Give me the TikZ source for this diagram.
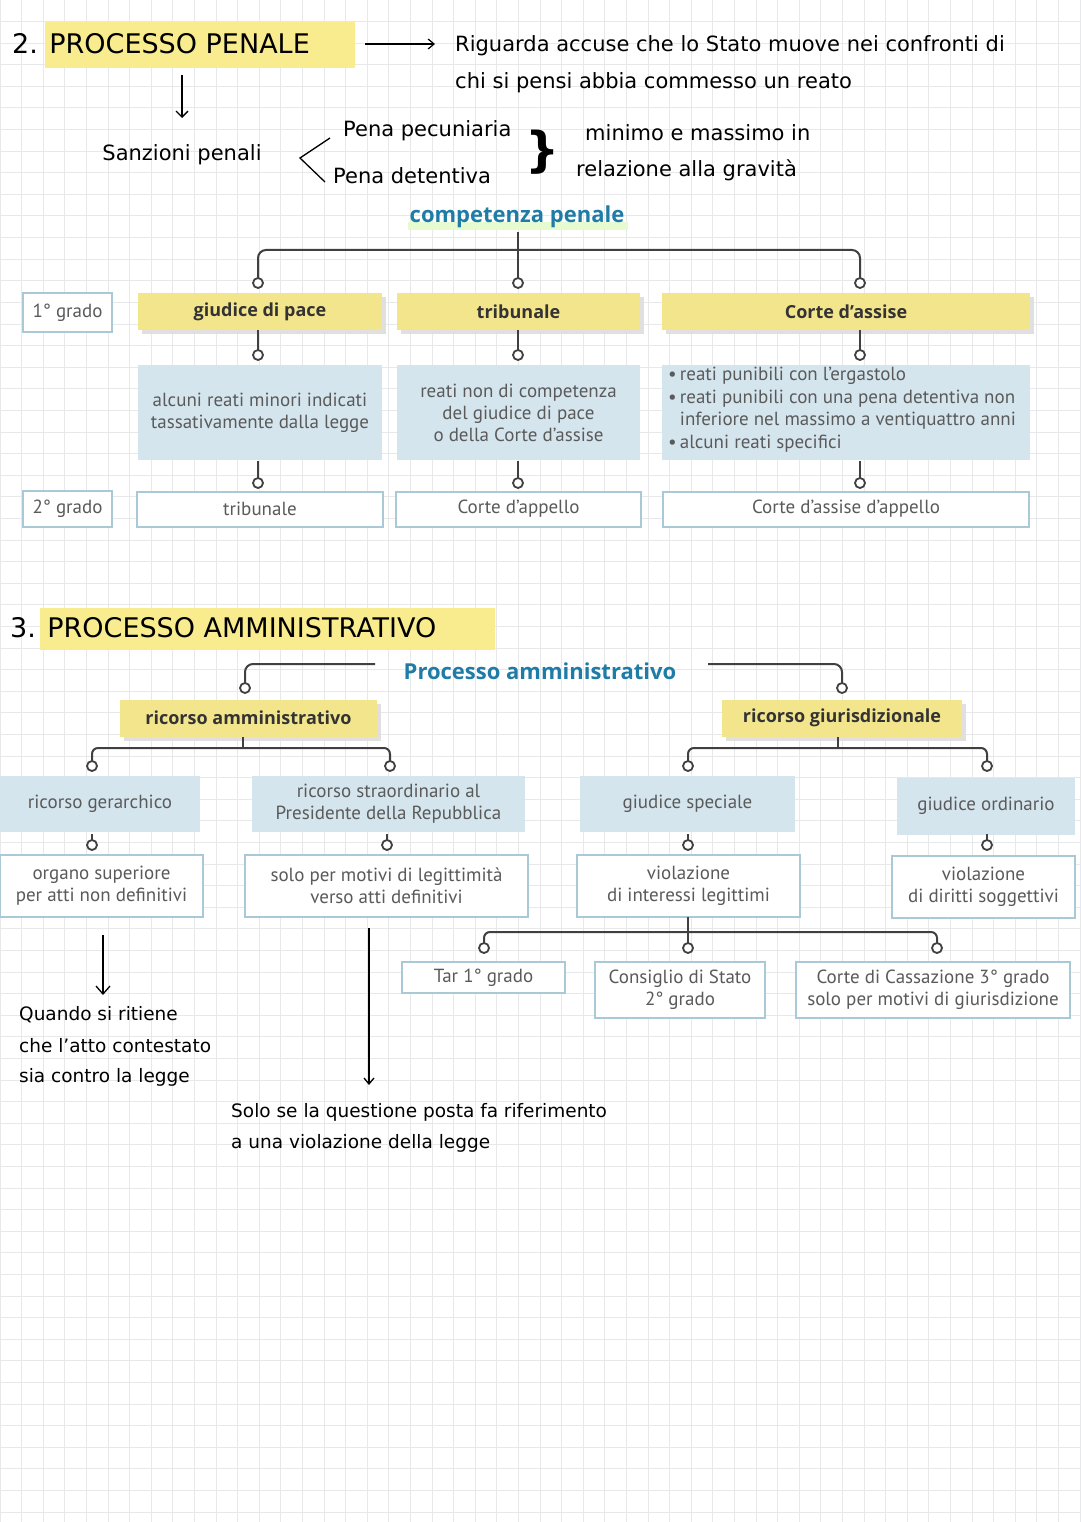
\documentclass[tikz,border=0pt]{standalone}
\usepackage{fontspec}
\usetikzlibrary{arrows.meta}
\setmainfont{DejaVu Sans}
\newfontfamily\boxf{PT Sans}
\newfontfamily\headf{Open Sans}
\definecolor{hl}{HTML}{F8EC8E}
\definecolor{hdr}{HTML}{F3E58C}
\definecolor{bfill}{HTML}{D5E5EE}
\definecolor{bord}{HTML}{A9C9D6}
\definecolor{ttl}{HTML}{1F7CA6}
\definecolor{gtxt}{HTML}{5A5A5A}
\definecolor{grid}{HTML}{E6E8EA}
\begin{document}
\begin{tikzpicture}[x=1pt,y=-1pt,
  hand/.style={font=\fontsize{21}{24}\selectfont,text=black,inner sep=0pt},
  hdr/.style={fill=hdr,draw=none,font=\headf\bfseries\fontsize{18}{22}\selectfont,text=black!80,minimum height=37pt,inner sep=0pt},
  bbox/.style={fill=bfill,draw=none,font=\boxf\fontsize{19}{22}\selectfont,text=gtxt,align=center,inner sep=0pt},
  wbox/.style={fill=white,draw=bord,line width=2pt,font=\boxf\fontsize{19}{22}\selectfont,text=gtxt,align=center,inner sep=0pt},
  ln/.style={draw=black!75,line width=2pt},
  dot/.style={circle,draw=black!75,line width=1.8pt,fill=white,minimum size=10pt,inner sep=0pt},
  ttl/.style={font=\headf\bfseries\fontsize{22}{26}\selectfont,text=ttl},
  harrow/.style={draw=black,line width=1.3pt,-{Straight Barb[length=8pt,width=14pt]}}
]
\useasboundingbox (0,0) rectangle (1080,1522);
\fill[white] (0,0) rectangle (1080,1522);
\foreach \i in {0,...,50} {\draw[grid,line width=1pt] (\i*21.6,0) -- (\i*21.6,1522);}
\foreach \j in {0,...,71} {\draw[grid,line width=1pt] (0,\j*21.6) -- (1080,\j*21.6);}

% ---------- Section 2 ----------
\fill[hl] (45,22) rectangle (355,68);
\node[hand,anchor=west,font=\fontsize{27}{30}\selectfont] (t2) at (12,44) {2. PROCESSO PENALE};
\coordinate (a1) at (365,44); \coordinate (a2) at (435,44);
\draw[harrow,line width=1.2pt,-{Straight Barb[length=6pt,width=10pt]}] (a1) -- (a2);
\node[hand,anchor=west] (r1) at (455,46) {Riguarda accuse che lo Stato muove nei confronti di};
\node[hand,anchor=west] (r2) at (455,83) {chi si pensi abbia commesso un reato};
\coordinate (d1) at (182,75); \coordinate (d2) at (182,118);
\draw[harrow,-{Straight Barb[length=6pt,width=12pt]}] (d1) -- (d2);
\node[hand] (sp) at (182,155) {Sanzioni penali};
\coordinate (c1) at (330,138); \coordinate (c2) at (300,158); \coordinate (c3) at (325,182);
\draw[line width=1.3pt] (c1) -- (c2) -- (c3);
\node[hand,anchor=west] (pp) at (343,131) {Pena pecuniaria};
\node[hand,anchor=west] (pd) at (333,176) {Pena detentiva};
\node[hand,font=\fontsize{48}{48}\selectfont\bfseries] (br) at (543,152) {\}};
\node[hand,anchor=west] (m1) at (585,133) {minimo e massimo in};
\node[hand,anchor=west] (m2) at (576,170) {relazione alla gravità};

\fill[hl!70!green!30] (408,222) rectangle (628,230);
\node[ttl] (cp) at (517,217) {competenza penale};
\draw[ln,rounded corners=8pt] (258,278) -- (258,250) -- (860,250) -- (860,278);
\draw[ln] (518,232) -- (518,278);
\node[dot] (k1) at (258,283) {}; \node[dot] (k2) at (518,283) {}; \node[dot] (k3) at (860,283) {};

\node[wbox,minimum width=89pt,minimum height=39pt] (g1) at (67.5,312.5) {1° grado};
\node[wbox,minimum width=89pt,minimum height=36pt] (g2) at (67.5,509) {2° grado};

\foreach \n/\xa/\xb/\t in {h1/138/382/giudice di pace, h2/397/640/tribunale, h3/662/1030/Corte d’assise}{
  \fill[black!12] (\xa+4,297) rectangle (\xb+4,334);
  \node[hdr,minimum width={\xb-\xa}] (\n) at ({(\xa+\xb)/2},311.5) {\t};
}
\node[bbox,minimum width=244pt,minimum height=95pt] (b1) at (260,412.5) {alcuni reati minori indicati\\tassativamente dalla legge};
\node[bbox,minimum width=243pt,minimum height=95pt] (b2) at (518.5,412.5) {reati non di competenza\\del giudice di pace\\o della Corte d’assise};
\node[bbox,minimum width=368pt,minimum height=95pt] (b3) at (846,412.5) {};
\node[font=\boxf\fontsize{19}{22.5}\selectfont,text=gtxt,anchor=north west,align=left,inner sep=0pt] (b3t) at (668,367)
 {\textbullet\,reati punibili con l’ergastolo\\\textbullet\,reati punibili con una pena detentiva non\\\phantom{\textbullet\,}inferiore nel massimo a ventiquattro anni\\\textbullet\,alcuni reati specifici};
\node[wbox,minimum width=246pt,minimum height=35pt] (w1) at (260,509) {tribunale};
\node[wbox,minimum width=245pt,minimum height=35pt] (w2) at (518.5,509) {Corte d’appello};
\node[wbox,minimum width=366pt,minimum height=35pt] (w3) at (846,509) {Corte d’assise d’appello};
\foreach \x in {258,518,860}{
  \draw[ln] (\x,330) -- (\x,350); \node[dot] at (\x,355) {};
  \draw[ln] (\x,461) -- (\x,478); \node[dot] at (\x,483) {};
}

% ---------- Section 3 ----------
\fill[hl] (40,608) rectangle (495,650);
\node[hand,anchor=west,font=\fontsize{27}{30}\selectfont] (t3) at (10,628) {3. PROCESSO AMMINISTRATIVO};
\node[ttl] (pa) at (540,671) {Processo amministrativo};
\draw[ln,rounded corners=8pt] (375,664) -- (245,664) -- (245,683);
\draw[ln,rounded corners=8pt] (708,664) -- (842,664) -- (842,683);
\node[dot] (e1) at (245,688) {}; \node[dot] (e2) at (842,688) {};
\fill[black!12] (124,704) rectangle (381,741);
\node[hdr,minimum width=257pt] (ra) at (248.5,718) {ricorso amministrativo};
\fill[black!12] (726,704) rectangle (966,741);
\node[hdr,minimum width=240pt] (rg) at (842,718) {ricorso giurisdizionale};
\draw[ln,rounded corners=6pt] (92,761) -- (92,748) -- (390,748) -- (390,761);
\draw[ln] (243,737) -- (243,748);
\draw[ln,rounded corners=6pt] (688,761) -- (688,748) -- (987,748) -- (987,761);
\draw[ln] (838,737) -- (838,748);
\foreach \x in {92,390,688,987} \node[dot] at (\x,766) {};

\node[bbox,minimum width=200pt,minimum height=56pt] (s1) at (100,804) {ricorso gerarchico};
\node[bbox,minimum width=273pt,minimum height=56pt] (s2) at (388.5,804) {ricorso straordinario al\\Presidente della Repubblica};
\node[bbox,minimum width=215pt,minimum height=56pt] (s3) at (687.5,804) {giudice speciale};
\node[bbox,minimum width=178pt,minimum height=57pt] (s4) at (986,806) {giudice ordinario};
\foreach \x in {92,387,688,987} {\draw[ln] (\x,834) -- (\x,840); \node[dot] at (\x,845) {};}

\node[wbox,minimum width=203pt,minimum height=62pt] (v1) at (101.5,886) {organo superiore\\per atti non definitivi};
\node[wbox,minimum width=283pt,minimum height=62pt] (v2) at (386.5,886) {solo per motivi di legittimità\\verso atti definitivi};
\node[wbox,minimum width=223pt,minimum height=62pt] (v3) at (688.5,886) {violazione\\di interessi legittimi};
\node[wbox,minimum width=183pt,minimum height=62pt] (v4) at (983.5,887) {violazione\\di diritti soggettivi};

\draw[ln,rounded corners=6pt] (484,943) -- (484,932) -- (937,932) -- (937,943);
\draw[ln] (688,917) -- (688,943);
\foreach \x in {484,688,937} \node[dot] at (\x,948) {};
\node[wbox,minimum width=163pt,minimum height=31pt] (u1) at (483.5,977.5) {Tar 1° grado};
\node[wbox,minimum width=170pt,minimum height=56pt] (u2) at (680,990) {Consiglio di Stato\\2° grado};
\node[wbox,minimum width=274pt,minimum height=56pt] (u3) at (933,990) {Corte di Cassazione 3° grado\\solo per motivi di giurisdizione};

\coordinate (q1) at (103,935); \coordinate (q2) at (103,995);
\draw[harrow] (q1) -- (q2);
\node[hand,anchor=west,font=\fontsize{18.5}{24}\selectfont] (q3) at (19,1015) {Quando si ritiene};
\node[hand,anchor=west,font=\fontsize{18.5}{24}\selectfont] (q4) at (19,1046) {che l'atto contestato};
\node[hand,anchor=west,font=\fontsize{18.5}{24}\selectfont] (q5) at (19,1077) {sia contro la legge};
\coordinate (z1) at (369,928); \coordinate (z2) at (369,1085);
\draw[harrow,-{Straight Barb[length=6pt,width=10pt]}] (z1) -- (z2);
\node[hand,anchor=west,font=\fontsize{18.5}{24}\selectfont] (z3) at (231,1112) {Solo se la questione posta fa riferimento};
\node[hand,anchor=west,font=\fontsize{18.5}{24}\selectfont] (z4) at (231,1143) {a una violazione della legge};
\end{tikzpicture}
\end{document}
